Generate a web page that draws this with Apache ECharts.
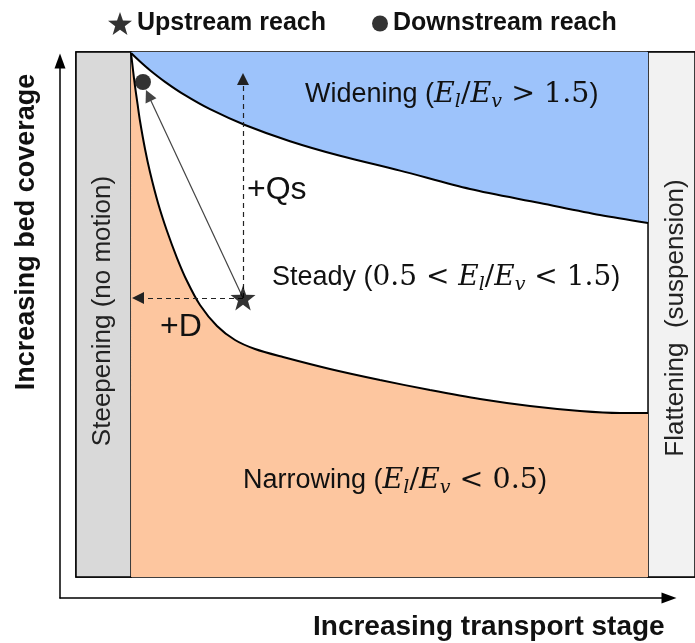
<!DOCTYPE html>
<html><head><meta charset="utf-8">
<script src="https://cdn.jsdelivr.net/npm/echarts@6/dist/echarts.min.js"></script>
<style>html,body{margin:0;padding:0;background:#fff}#c{width:695px;height:643px}</style>
</head><body><div id="c"></div>
<script>
// Conceptual diagram: x = transport stage (0-100), y = bed coverage (0-100)
const upperBoundary = [[8.89,99.81],[10.34,98.19],[11.95,96.53],[14.38,94.32],[17.61,91.77],[21.65,89.10],[27.30,86.10],[34.57,83.01],[42.65,80.23],[52.34,77.41],[63.65,73.90],[74.96,71.24],[84.65,68.95],[92.41,67.43]];
const lowerBoundary = [[8.89,99.81],[9.21,96.57],[9.53,93.52],[9.94,90.10],[10.34,86.86],[11.15,81.52],[11.95,77.14],[13.25,71.24],[14.70,65.90],[16.32,60.76],[17.93,56.38],[20.03,51.81],[22.78,47.81],[25.69,45.14],[28.92,43.43],[33.44,41.90],[41.03,39.62],[49.11,37.52],[57.19,35.62],[65.27,33.90],[73.34,32.57],[81.42,31.62],[87.88,31.24],[92.41,31.24]];
const upstreamReach = [[26.98,53.14]];
const downstreamReach = [[10.82,94.29]];
const regimeLimits = [8.89, 92.41];
const qsArrowTip = [26.98, 94.86];
const dArrowTip = [10.02, 53.14];
const pathArrowTip = [11.71, 91.73];
const legendNames = ['Upstream reach', 'Downstream reach'];

const SANS = 'Liberation Sans, Arial, sans-serif';
const SERIF = 'DejaVu Serif, serif';
const INK = '#111';
const starPath = 'path://M0,-10L2.35,-3.24L9.51,-3.09L3.8,1.24L5.88,8.09L0,4L-5.88,8.09L-3.8,1.24L-9.51,-3.09L-2.35,-3.24Z';

function mathRich(size) {
  return {
    t: {fontFamily: SANS, fontSize: 27, fill: INK, lineHeight: 34},
    m: {fontFamily: SERIF, fontSize: size, fontStyle: 'italic', fill: INK, lineHeight: 34},
    n: {fontFamily: SERIF, fontSize: size, fill: INK, lineHeight: 34},
    s: {fontFamily: SERIF, fontSize: 19, fontStyle: 'italic', fill: INK, lineHeight: 22, verticalAlign: 'bottom'}
  };
}

const chart = echarts.init(document.getElementById('c'), null, {renderer: 'canvas'});
const hiddenAxis = {type: 'value', min: 0, max: 100, show: false};
const arrowAxis = {
  type: 'value', min: 0, max: 100, gridIndex: 1,
  axisLine: {show: true, onZero: false, symbol: ['none', 'triangle'], symbolSize: [11, 15], lineStyle: {color: '#000', width: 1.5}},
  axisTick: {show: false}, axisLabel: {show: false}, splitLine: {show: false}
};

chart.setOption({
  animation: false,
  backgroundColor: '#fff',
  grid: [
    {left: 76, top: 52, right: 0, bottom: 66, show: true, backgroundColor: '#fff', borderColor: '#000', borderWidth: 1.5},
    {left: 60, top: 61, right: 26, bottom: 45}
  ],
  xAxis: [Object.assign({gridIndex: 0}, hiddenAxis), Object.assign({}, arrowAxis)],
  yAxis: [Object.assign({gridIndex: 0}, hiddenAxis), Object.assign({}, arrowAxis)],
  legend: [
    {data: [legendNames[0]], left: 103, top: 6, itemWidth: 24, itemHeight: 24, itemGap: 5,
     textStyle: {fontFamily: SANS, fontWeight: 'bold', fontSize: 25, color: INK}},
    {data: [legendNames[1]], left: 367, top: 6, itemWidth: 16, itemHeight: 16,
     textStyle: {fontFamily: SANS, fontWeight: 'bold', fontSize: 25, color: INK}}
  ],
  series: [
    {
      name: 'Widening', type: 'line', data: upperBoundary, smooth: 0.3,
      symbol: 'none', z: 2,
      lineStyle: {color: '#000', width: 2},
      areaStyle: {color: '#9dc3fb', opacity: 1, origin: 'end'},
      markArea: {
        silent: true,
        itemStyle: {borderColor: '#000', borderWidth: 1.5},
        data: [
          [{xAxis: 0, yAxis: 0, itemStyle: {color: '#d9d9d9'}}, {xAxis: regimeLimits[0], yAxis: 100}],
          [{xAxis: regimeLimits[1], yAxis: 0, itemStyle: {color: '#f2f2f2'}}, {xAxis: 100, yAxis: 100}]
        ]
      }
    },
    {
      name: 'Narrowing', type: 'line', data: lowerBoundary, smooth: 0.3,
      symbol: 'none', z: 2,
      lineStyle: {color: '#000', width: 2},
      areaStyle: {color: '#fdc69f', opacity: 1, origin: 'start'}
    },
    {
      name: 'path', type: 'lines', coordinateSystem: 'cartesian2d', z: 5,
      symbol: ['none', 'triangle'], symbolSize: 12,
      lineStyle: {color: '#444', width: 1.2, type: 'solid', opacity: 1},
      data: [{coords: [upstreamReach[0], pathArrowTip]}]
    },
    {
      name: 'forcing', type: 'lines', coordinateSystem: 'cartesian2d', z: 5,
      symbol: ['none', 'triangle'], symbolSize: 12,
      lineStyle: {color: '#222', width: 1.2, type: [5, 4], opacity: 1},
      data: [{coords: [upstreamReach[0], qsArrowTip]}, {coords: [upstreamReach[0], dArrowTip]}]
    },
    {
      name: legendNames[0], type: 'scatter', data: upstreamReach, symbol: starPath, symbolSize: 25, z: 6,
      itemStyle: {color: '#000'}
    },
    {
      name: legendNames[1], type: 'scatter', data: downstreamReach, symbol: 'circle', symbolSize: 16, z: 6,
      itemStyle: {color: '#000'}
    }
  ],
  graphic: [
    {type: 'text', x: 27, y: 232, rotation: Math.PI / 2, z: 10,
     style: {text: 'Increasing bed coverage', fontFamily: SANS, fontWeight: 'bold', fontSize: 27, fill: INK, align: 'center', verticalAlign: 'middle'}},
    {type: 'text', x: 313, y: 627, z: 10,
     style: {text: 'Increasing transport stage', fontFamily: SANS, fontWeight: 'bold', fontSize: 28, fill: INK, align: 'left', verticalAlign: 'middle'}},
    {type: 'text', x: 103, y: 311, rotation: Math.PI / 2, z: 10,
     style: {text: 'Steepening (no motion)', fontFamily: SANS, fontSize: 26, fill: '#222', align: 'center', verticalAlign: 'middle'}},
    {type: 'text', x: 676, y: 318, rotation: Math.PI / 2, z: 10,
     style: {text: 'Flattening  (suspension)', fontFamily: SANS, fontSize: 26, fill: '#222', align: 'center', verticalAlign: 'middle'}},
    {type: 'text', x: 305, y: 95, z: 10,
     style: {text: '{t|Widening (}{m|E}{s|l}{n|/}{m|E}{s|v}{n| > 1.5}{t|)}', rich: mathRich(28.5), align: 'left', verticalAlign: 'middle'}},
    {type: 'text', x: 272, y: 278, z: 10,
     style: {text: '{t|Steady (}{n|0.5 < }{m|E}{s|l}{n|/}{m|E}{s|v}{n| < 1.5}{t|)}', rich: mathRich(28), align: 'left', verticalAlign: 'middle'}},
    {type: 'text', x: 243, y: 481, z: 10,
     style: {text: '{t|Narrowing (}{m|E}{s|l}{n|/}{m|E}{s|v}{n| < 0.5}{t|)}', rich: mathRich(28.5), align: 'left', verticalAlign: 'middle'}},
    {type: 'text', x: 247, y: 190, z: 10,
     style: {text: '+Qs', fontFamily: SANS, fontSize: 32, fill: INK, align: 'left', verticalAlign: 'middle'}},
    {type: 'text', x: 160, y: 327, z: 10,
     style: {text: '+D', fontFamily: SANS, fontSize: 32, fill: INK, align: 'left', verticalAlign: 'middle'}}
  ]
});
</script>
</body></html>
